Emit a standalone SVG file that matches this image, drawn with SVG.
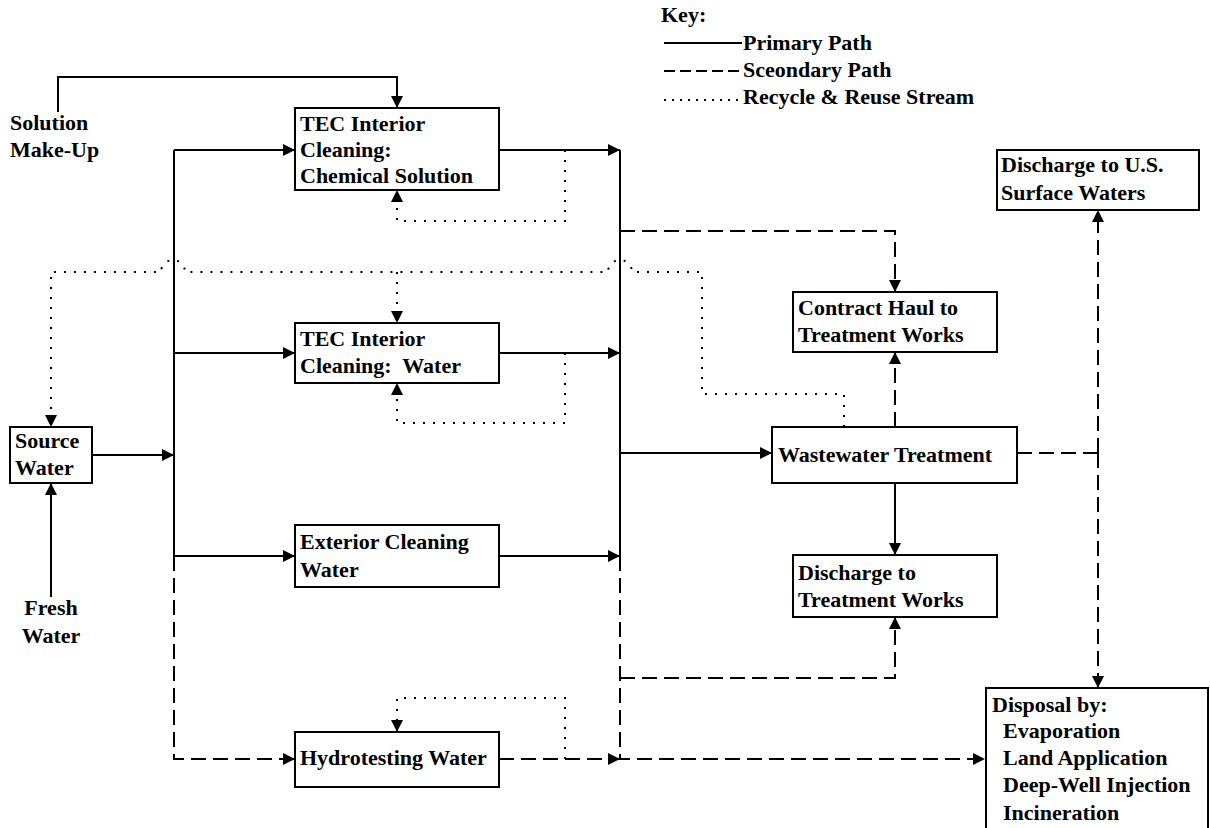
<svg xmlns="http://www.w3.org/2000/svg" width="1210" height="828" viewBox="0 0 1210 828">
<style>
text{font-family:"Liberation Serif","Times New Roman",serif;font-weight:bold;font-size:22px;fill:#000}
.box{fill:#fff;stroke:#000;stroke-width:2}
.c{fill:none;stroke:#000;stroke-width:2}
.d{stroke-dasharray:15 7}
.o{stroke-dasharray:2 8}
.pre{white-space:pre}
</style>
<defs>
<marker id="ah" markerUnits="userSpaceOnUse" markerWidth="12" markerHeight="12" refX="12" refY="6" orient="auto" viewBox="0 0 12 12">
<path d="M0,0 L12,6 L0,12 z" fill="#000" stroke="none"/>
</marker>
</defs>
<rect width="1210" height="828" fill="#fff"/>

<g id="key">
<text x="661" y="22">Key:</text>
<path class="c" d="M664,43 H742"/>
<text x="743" y="50">Primary Path</text>
<path class="c" d="M664,71 H742" stroke-dasharray="11 5"/>
<text x="743" y="77">Sceondary Path</text>
<path class="c" d="M664,100 H742" stroke-dasharray="2 6"/>
<text x="743" y="104">Recycle &amp; Reuse Stream</text>
</g>

<g id="connectors">
<!-- solid -->
<path class="c" d="M58,112 V77 H397 V108" marker-end="url(#ah)"/>
<path class="c" d="M51,597 V483" marker-end="url(#ah)"/>
<path class="c" d="M92,455 H174" marker-end="url(#ah)"/>
<path class="c" d="M174,150 V556"/>
<path class="c" d="M174,150 H295" marker-end="url(#ah)"/>
<path class="c" d="M174,353 H295" marker-end="url(#ah)"/>
<path class="c" d="M174,556 H295" marker-end="url(#ah)"/>
<path class="c" d="M499,150 H620" marker-end="url(#ah)"/>
<path class="c" d="M499,353 H620" marker-end="url(#ah)"/>
<path class="c" d="M499,556 H620" marker-end="url(#ah)"/>
<path class="c" d="M620,150 V556"/>
<path class="c" d="M620,453 H772" marker-end="url(#ah)"/>
<path class="c" d="M895,483 V555" marker-end="url(#ah)"/>
<!-- dashed -->
<path class="c d" d="M174,556 V759 H295" marker-end="url(#ah)"/>
<path class="c d" d="M499,759 H620" marker-end="url(#ah)"/>
<path class="c d" d="M620,556 V759 H985" marker-end="url(#ah)"/>
<path class="c d" d="M620,231 H895 V292" marker-end="url(#ah)"/>
<path class="c d" d="M895,427 V352" marker-end="url(#ah)"/>
<path class="c d" d="M620,678 H895 V617" marker-end="url(#ah)"/>
<path class="c d" d="M1017,453 H1098"/>
<path class="c d" d="M1098,453 V210" marker-end="url(#ah)"/>
<path class="c d" d="M1098,453 V688" marker-end="url(#ah)"/>
<!-- dotted -->
<path class="c o" d="M565,150 V221 H397 V190" marker-end="url(#ah)"/>
<path class="c o" d="M565,353 V423 H397 V383" marker-end="url(#ah)"/>
<path class="c o" d="M565,759 V698 H397 V732" marker-end="url(#ah)"/>
<path class="c o" d="M844,427 V394 H702 V272 H632 A12,12 0 0 0 608,272 H185 A12,12 0 0 0 161,272 H51 V427" marker-end="url(#ah)"/>
<path class="c o" d="M397,272 V323" marker-end="url(#ah)"/>
</g>

<g id="solution-makeup">
<text x="10" y="130">Solution</text>
<text x="10" y="157">Make-Up</text>
</g>

<g id="fresh-water">
<text x="51" y="615" text-anchor="middle">Fresh</text>
<text x="51" y="643" text-anchor="middle">Water</text>
</g>

<g id="source-water">
<rect class="box" x="10" y="427" width="82" height="56"/>
<text x="15" y="448">Source</text>
<text x="15" y="475">Water</text>
</g>

<g id="tec-chemical">
<rect class="box" x="295" y="108" width="204" height="82"/>
<text x="300" y="131">TEC Interior</text>
<text x="300" y="157">Cleaning:</text>
<text x="300" y="183">Chemical Solution</text>
</g>

<g id="tec-water">
<rect class="box" x="295" y="323" width="204" height="60"/>
<text x="300" y="346">TEC Interior</text>
<text x="300" y="373" class="pre">Cleaning:  Water</text>
</g>

<g id="exterior">
<rect class="box" x="295" y="525" width="204" height="62"/>
<text x="300" y="549">Exterior Cleaning</text>
<text x="300" y="577">Water</text>
</g>

<g id="hydrotesting">
<rect class="box" x="295" y="732" width="204" height="55"/>
<text x="300" y="765">Hydrotesting Water</text>
</g>

<g id="contract-haul">
<rect class="box" x="793" y="292" width="204" height="60"/>
<text x="798" y="315">Contract Haul to</text>
<text x="798" y="342">Treatment Works</text>
</g>

<g id="wastewater">
<rect class="box" x="772" y="427" width="245" height="56"/>
<text x="778" y="462">Wastewater Treatment</text>
</g>

<g id="discharge-tw">
<rect class="box" x="793" y="555" width="204" height="62"/>
<text x="798" y="580">Discharge to</text>
<text x="798" y="607">Treatment Works</text>
</g>

<g id="discharge-us">
<rect class="box" x="997" y="150" width="202" height="60"/>
<text x="1001" y="172">Discharge to U.S.</text>
<text x="1001" y="200">Surface Waters</text>
</g>

<g id="disposal">
<rect class="box" x="986" y="688" width="222" height="150"/>
<text x="992" y="712">Disposal by:</text>
<text x="1003" y="738">Evaporation</text>
<text x="1003" y="765">Land Application</text>
<text x="1003" y="792">Deep-Well Injection</text>
<text x="1003" y="820">Incineration</text>
</g>
</svg>
